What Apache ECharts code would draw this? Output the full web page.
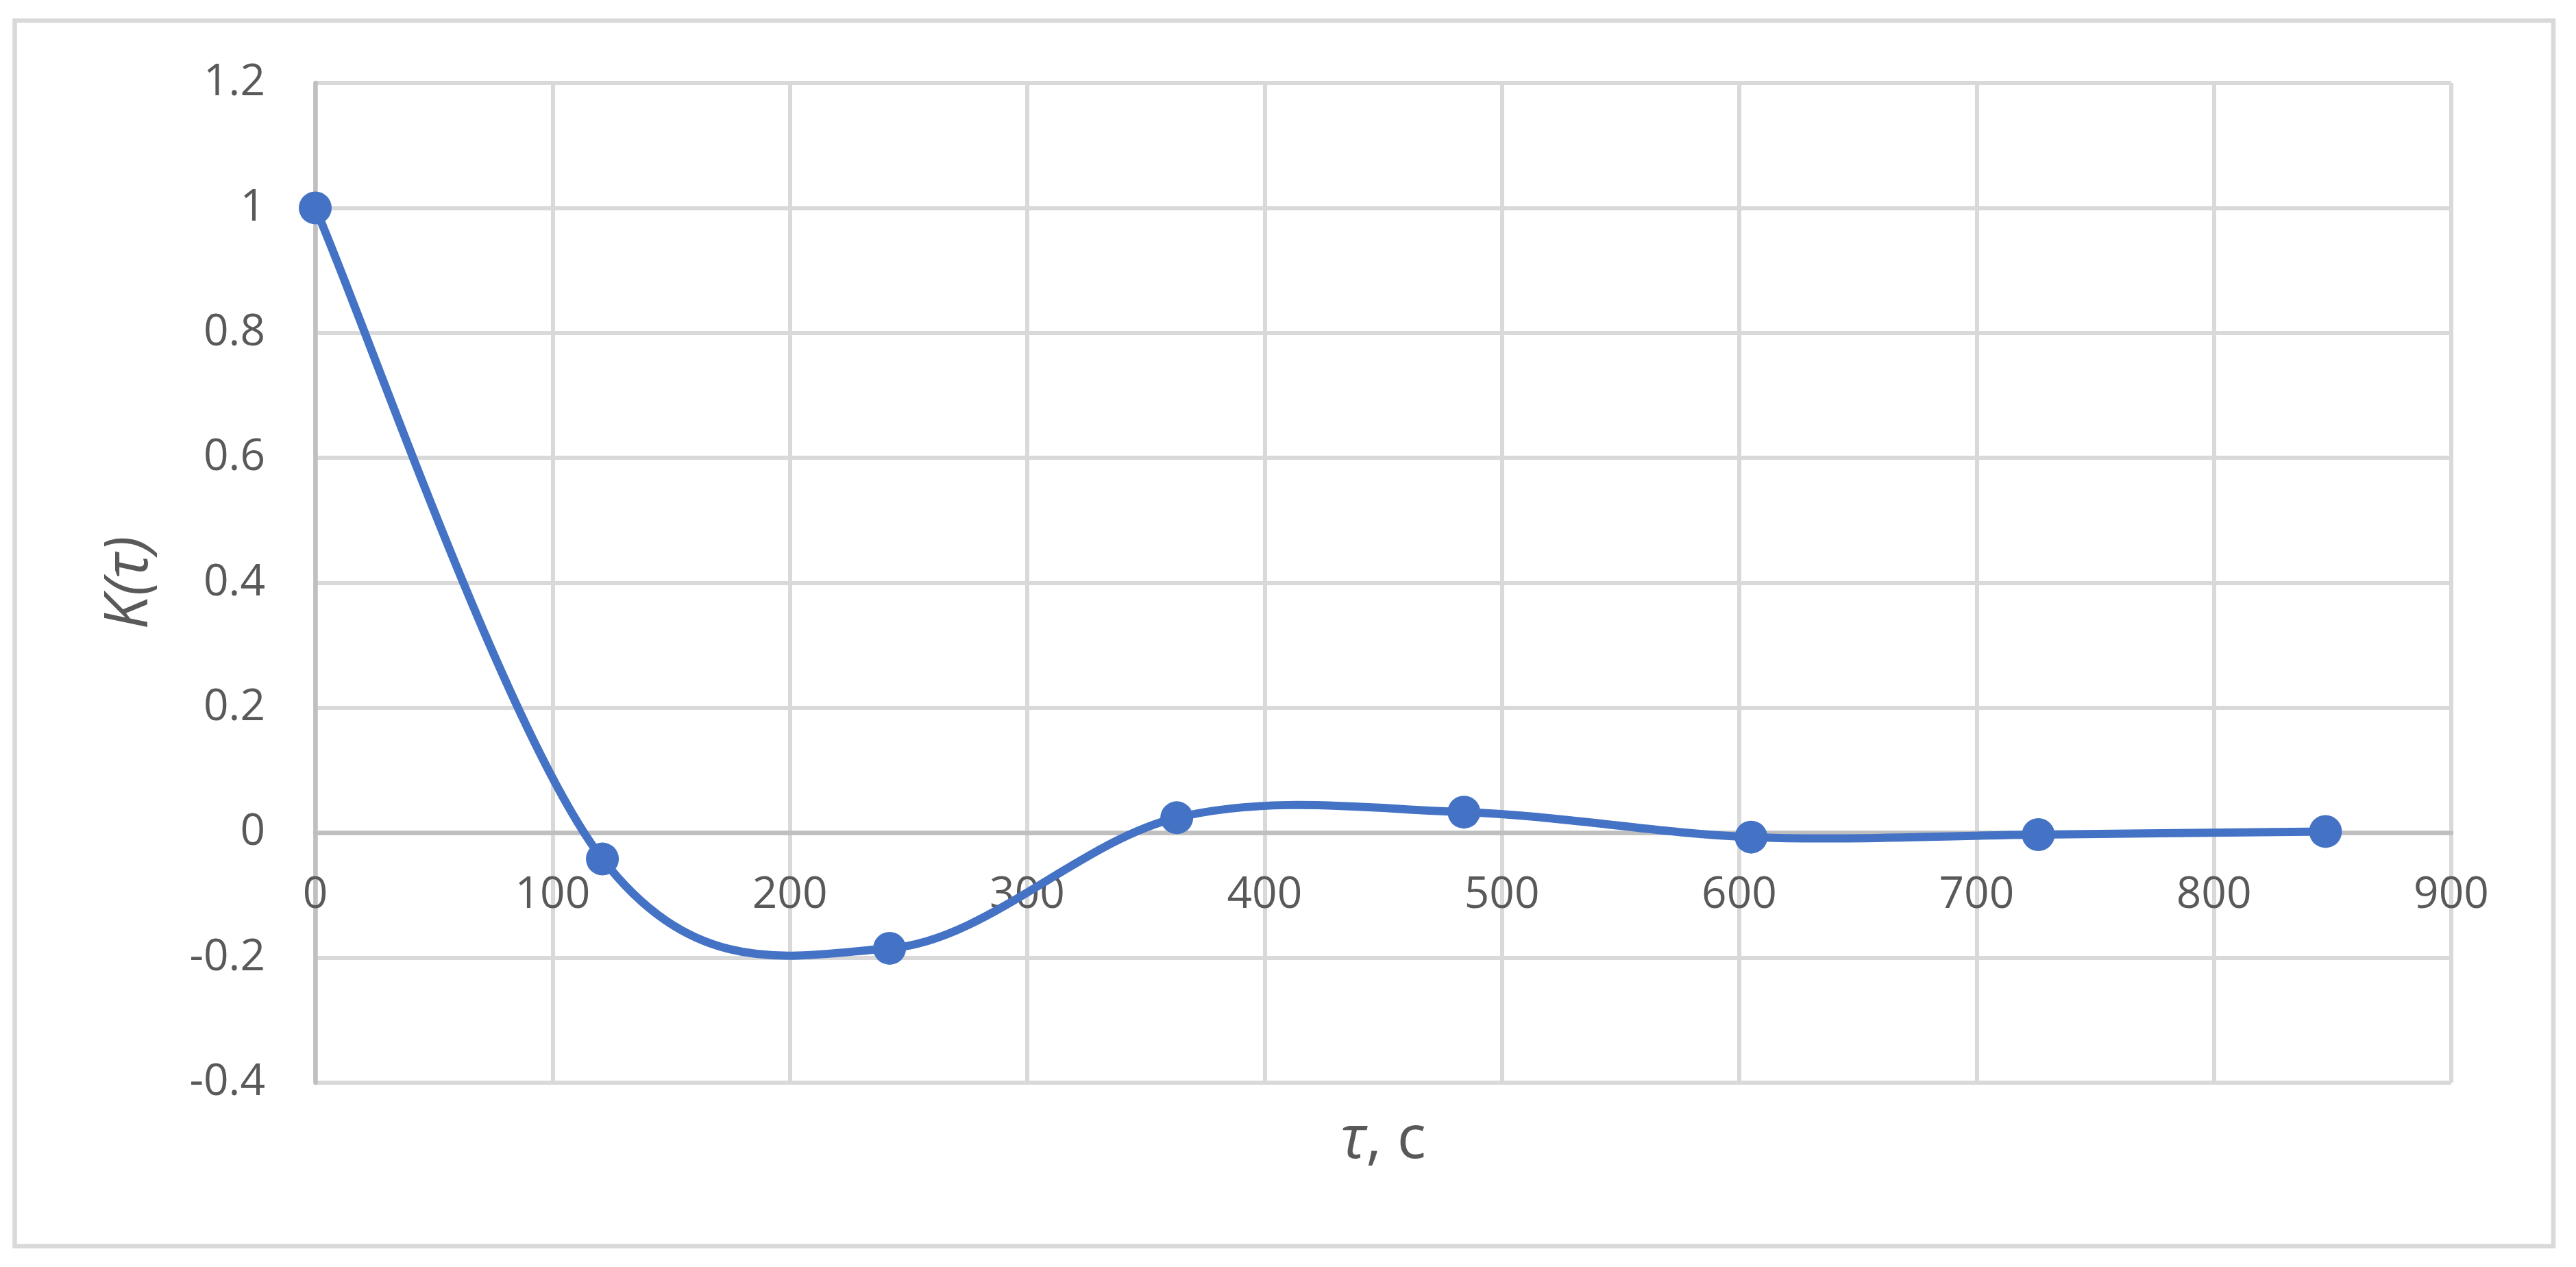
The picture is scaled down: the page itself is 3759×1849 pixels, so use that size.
<!DOCTYPE html>
<html>
<head>
<meta charset="utf-8">
<script src="https://cdn.jsdelivr.net/npm/echarts@6/dist/echarts.min.js"></script>
<style>
  html, body { margin: 0; padding: 0; background: #fff; }
  #chart { width: 3759px; height: 1849px; }
</style>
</head>
<body>
<div id="chart"></div>
<script>
// lag, s
var tau = [0, 121, 242, 363, 484, 605, 726, 847];
// autocorrelation K(tau)
var kValues = [1, -0.042, -0.185, 0.024, 0.033, -0.007, -0.003, 0.002];

var FONT = "Open Sans";
var TEXT = "#595959";
var BLUE = "#4472c4";

var Y_MIN = -0.4, Y_MAX = 1.2;
var GRID_TOP = 121, GRID_BOTTOM = 269, CHART_H = 1849;
// x axis sits on the zero line (labels too), like the spreadsheet chart
var zeroShift = (CHART_H - GRID_TOP - GRID_BOTTOM) * (0 - Y_MIN) / (Y_MAX - Y_MIN);

var points = tau.map(function (t, i) { return [t, kValues[i]]; });

var chart = echarts.init(document.getElementById("chart"));

// smooth curve like the spreadsheet one (catmull-rom through the points)
function renderCurve(params, api) {
  if (params.dataIndex !== 0) return;
  var p = points.map(function (d) { return api.coord(d); });
  var path = "M" + p[0][0] + " " + p[0][1];
  for (var i = 0; i < p.length - 1; i++) {
    var p0 = p[i - 1] || p[i];
    var p1 = p[i];
    var p2 = p[i + 1];
    var p3 = p[i + 2] || p[i + 1];
    var c1x = p1[0] + (p2[0] - p0[0]) / 6;
    var c1y = p1[1] + (p2[1] - p0[1]) / 6;
    var c2x = p2[0] - (p3[0] - p1[0]) / 6;
    var c2y = p2[1] - (p3[1] - p1[1]) / 6;
    path += " C" + c1x + " " + c1y + " " + c2x + " " + c2y + " " + p2[0] + " " + p2[1];
  }
  return {
    type: "path",
    shape: { pathData: path },
    style: { fill: "none", stroke: BLUE, lineWidth: 12, lineJoin: "round" }
  };
}

chart.setOption({
  backgroundColor: "#fff",
  animation: false,
  graphic: [
    {
      type: "rect",
      shape: { x: 21.5, y: 30, width: 3704.5, height: 1788.5 },
      style: { fill: "none", stroke: "#d9d9d9", lineWidth: 6.5 },
      z: -1
    }
  ],
  grid: {
    left: 460,
    right: 182,
    top: GRID_TOP,
    bottom: GRID_BOTTOM,
    containLabel: false,
    outerBoundsMode: "none"
  },
  xAxis: {
    type: "value",
    min: 0,
    max: 900,
    interval: 100,
    offset: -zeroShift,
    name: "{i|τ}{n|, с}",
    nameLocation: "middle",
    nameGap: 406,
    nameMoveOverlap: false,
    nameTextStyle: {
      rich: {
        i: { fontFamily: FONT, fontStyle: "italic", fontSize: 88, color: TEXT },
        n: { fontFamily: FONT, fontSize: 88, color: TEXT }
      }
    },
    axisLine: { show: true, onZero: false, lineStyle: { color: "#bfbfbf", width: 6.5 } },
    axisTick: { show: false },
    axisLabel: { fontFamily: FONT, fontSize: 64, color: TEXT, margin: 60 },
    splitLine: { show: true, lineStyle: { color: "#d9d9d9", width: 6 } }
  },
  yAxis: {
    type: "value",
    min: Y_MIN,
    max: Y_MAX,
    interval: 0.2,
    name: "K(τ)",
    nameLocation: "middle",
    nameGap: 226,
    nameTextStyle: { fontFamily: FONT, fontStyle: "italic", fontSize: 88, color: TEXT },
    axisLine: { show: true, lineStyle: { color: "#bfbfbf", width: 6.5 } },
    axisTick: { show: false },
    axisLabel: {
      fontFamily: FONT,
      fontSize: 64,
      color: TEXT,
      margin: 73,
      formatter: function (v) { return String(+v.toFixed(1)); }
    },
    splitLine: { show: true, lineStyle: { color: "#d9d9d9", width: 6 } }
  },
  series: [
    {
      type: "custom",
      data: points,
      renderItem: renderCurve,
      clip: false,
      z: 4
    },
    {
      type: "scatter",
      data: points,
      symbol: "circle",
      symbolSize: 48,
      itemStyle: { color: BLUE, opacity: 1 },
      z: 5
    }
  ]
});
</script>
</body>
</html>
